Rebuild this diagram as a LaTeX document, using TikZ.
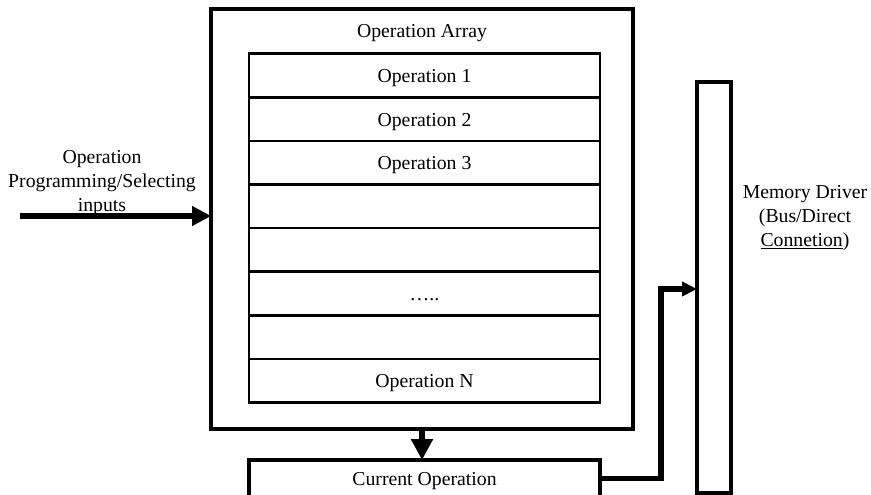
\documentclass[tikz,border=0pt]{standalone}
\usepackage{fontspec}
\setmainfont{Liberation Serif}
\usetikzlibrary{arrows.meta}
\begin{document}
\begin{tikzpicture}[x=1pt,y=-1pt,
  every node/.style={font=\fontsize{19.75}{24}\selectfont, outer sep=0pt},
  frame/.style={draw, line width=3.2pt, inner sep=0pt},
  oprow/.style={draw, line width=2.6pt, minimum width=351pt, minimum height=43.6pt,
    inner sep=0pt, text height=19pt, text depth=4.5pt},
  bigarrow/.style={line width=5.5pt, line join=miter},
  lbl/.style={align=center, inner sep=0pt}]
  \useasboundingbox (0,0) rectangle (871,495);

  % outer operation array box
  \node[frame, minimum width=422pt, minimum height=420pt] (outer) at (422,219) {};
  \node[lbl] (title) at (422,33) {Operation Array};

  % stacked operation rows
  \node[oprow] (r1) at (424.5,75.5) {Operation 1};
  \node[oprow, anchor=north] (r2) at (r1.south) {Operation 2};
  \node[oprow, anchor=north] (r3) at (r2.south) {Operation 3};
  \node[oprow, anchor=north] (r4) at (r3.south) {};
  \node[oprow, anchor=north] (r5) at (r4.south) {};
  \node[oprow, anchor=north] (r6) at (r5.south) {…..};
  \node[oprow, anchor=north] (r7) at (r6.south) {};
  \node[oprow, anchor=north] (r8) at (r7.south) {Operation N};

  % current operation register
  \node[frame, minimum width=351pt, minimum height=37pt, text height=19pt, text depth=4.5pt]
    (cur) at (424.5,478.5) {Current Operation};

  % memory driver bus
  \node[frame, minimum width=34pt, minimum height=411pt] (mem) at (714,287.5) {};
  \node[lbl] (memlbl) at (805,218) {Memory Driver\\(Bus/Direct\\\underline{Connetion})};

  % input label and arrow
  \node[lbl] (inlbl) at (102,183) {Operation\\Programming/Selecting\\inputs};
  \coordinate (src) at (20,216);
  \draw[bigarrow, -{Triangle[length=19pt,width=19pt]}] (src) -- (outer.west |- src);

  % array to current operation
  \draw[bigarrow, -{Triangle[length=21pt,width=21pt]}] (outer.south) -- (cur.north -| outer.south);

  % current operation to memory driver
  \coordinate (bend) at (661,289);
  \draw[bigarrow, -{Triangle[length=15pt,width=14pt]}] (cur.east) -| (bend) -- (mem.west |- bend);
\end{tikzpicture}
\end{document}
